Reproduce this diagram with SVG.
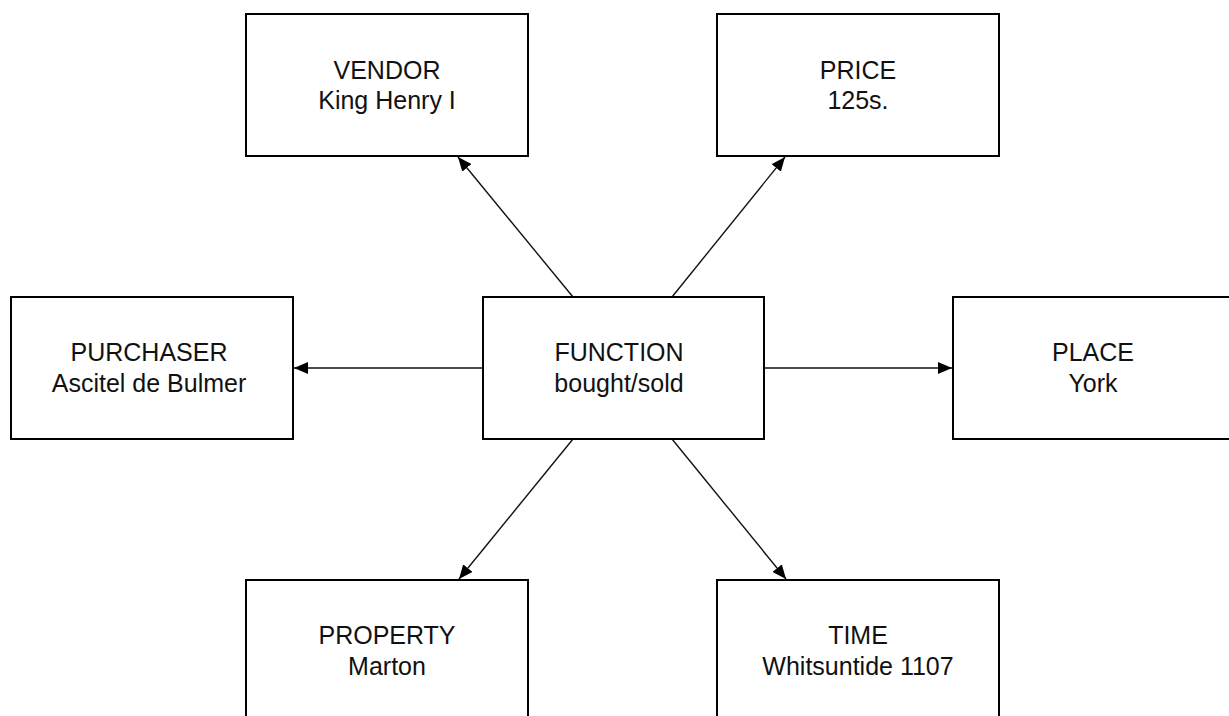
<svg xmlns="http://www.w3.org/2000/svg" width="1229" height="716" viewBox="0 0 1229 716">
<style>
.box{fill:#fff;stroke:#000;stroke-width:2}
.t{font-family:"Liberation Sans",Arial,sans-serif;font-size:25px;fill:#111;text-anchor:middle}
.c{stroke:#111;stroke-width:1.4;fill:none;marker-end:url(#ah)}
</style>
<defs>
<marker id="ah" markerUnits="userSpaceOnUse" markerWidth="14" markerHeight="12" viewBox="0 0 14 12" refX="14" refY="6" orient="auto">
<path d="M0,0 L14,6 L0,12 Z" fill="#000"/>
</marker>
</defs>
<rect width="1229" height="716" fill="#fff"/>
<g id="connectors">
<line class="c" x1="573" y1="297" x2="458" y2="157"/>
<line class="c" x1="672" y1="297" x2="785" y2="157"/>
<line class="c" x1="483" y1="368" x2="294" y2="368"/>
<line class="c" x1="764" y1="368" x2="952" y2="368"/>
<line class="c" x1="573" y1="439" x2="459" y2="579"/>
<line class="c" x1="672" y1="439" x2="786" y2="579"/>
</g>
<g id="vendor">
<rect class="box" x="246" y="14" width="282" height="142"/>
<text class="t" x="387" y="79">VENDOR</text>
<text class="t" x="387" y="109">King Henry I</text>
</g>
<g id="price">
<rect class="box" x="717" y="14" width="282" height="142"/>
<text class="t" x="858" y="79">PRICE</text>
<text class="t" x="858" y="109">125s.</text>
</g>
<g id="purchaser">
<rect class="box" x="11" y="297" width="282" height="142"/>
<text class="t" x="149" y="361">PURCHASER</text>
<text class="t" x="149" y="392">Ascitel de Bulmer</text>
</g>
<g id="function">
<rect class="box" x="483" y="297" width="281" height="142"/>
<text class="t" x="619" y="361">FUNCTION</text>
<text class="t" x="619" y="392">bought/sold</text>
</g>
<g id="place">
<rect class="box" x="953" y="297" width="282" height="142"/>
<text class="t" x="1093" y="361">PLACE</text>
<text class="t" x="1093" y="392">York</text>
</g>
<g id="property">
<rect class="box" x="246" y="580" width="282" height="142"/>
<text class="t" x="387" y="644">PROPERTY</text>
<text class="t" x="387" y="675">Marton</text>
</g>
<g id="time">
<rect class="box" x="717" y="580" width="282" height="142"/>
<text class="t" x="858" y="644">TIME</text>
<text class="t" x="858" y="675">Whitsuntide 1107</text>
</g>
</svg>
